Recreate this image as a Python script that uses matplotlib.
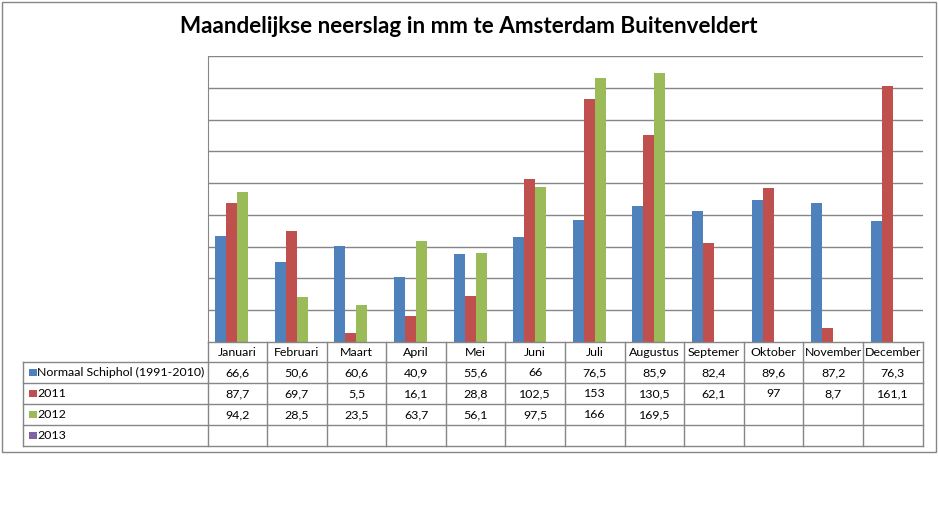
import matplotlib
matplotlib.use("Agg")
import matplotlib.pyplot as plt
from matplotlib.lines import Line2D
from matplotlib.patches import Rectangle
import numpy as np

W, H = 939, 513

months = ["Januari", "Februari", "Maart", "April", "Mei", "Juni", "Juli",
          "Augustus", "Septemer", "Oktober", "November", "December"]
series_names = ["Normaal Schiphol (1991-2010)", "2011", "2012", "2013"]
normaal = [66.6, 50.6, 60.6, 40.9, 55.6, 66, 76.5, 85.9, 82.4, 89.6, 87.2, 76.3]
y2011 = [87.7, 69.7, 5.5, 16.1, 28.8, 102.5, 153, 130.5, 62.1, 97, 8.7, 161.1]
y2012 = [94.2, 28.5, 23.5, 63.7, 56.1, 97.5, 166, 169.5, None, None, None, None]
y2013 = [None] * 12
colors = ["#4F81BD", "#C0504D", "#9BBB59", "#8064A2"]

FONT = "Lato"
GRID = "#868686"
TSIZE = 8.9


def fx(x):
    return x / W


def fy(y):
    return 1 - y / H


def fmt(v):
    if v is None:
        return ""
    return ("%g" % v).replace(".", ",")


fig = plt.figure(figsize=(W / 100, H / 100), dpi=100)
fig.patch.set_facecolor("white")

# outer chart border
fig.add_artist(Rectangle((fx(1.5), fy(452)), fx(936) - fx(1.5), fy(1.5) - fy(452),
                         transform=fig.transFigure, fill=False,
                         edgecolor=GRID, linewidth=1))

fig.text(fx(469), fy(27), "Maandelijkse neerslag in mm te Amsterdam Buitenveldert",
         ha="center", va="center", fontsize=16.2, fontweight="bold",
         family=FONT, color="black")

x0, x1 = 207.5, 922.5
top, bottom = 56, 342
ax = fig.add_axes([fx(x0), fy(bottom), fx(x1) - fx(x0), fy(top) - fy(bottom)])
ax.set_xlim(-0.5, 11.5)
ax.set_ylim(0, 180)
ax.set_yticks(np.arange(20, 181, 20))
ax.yaxis.grid(True, color=GRID, linewidth=1)
ax.set_axisbelow(True)
ax.tick_params(left=False, bottom=False, labelleft=False, labelbottom=False)
for s in ["top", "right", "bottom"]:
    ax.spines[s].set_visible(False)
ax.spines["left"].set_color(GRID)

xs = np.arange(12)
bw = 11 / ((x1 - x0) / 12)
all_series = [normaal, y2011, y2012, y2013]
for i, vals in enumerate(all_series):
    v = [np.nan if a is None else a for a in vals]
    ax.bar(xs + (i - 1.5) * bw, v, width=bw, color=colors[i], linewidth=0)

# data table
col_w = (x1 - x0) / 12
rows = [342, 362, 383, 404, 425, 446]
tleft = 23


def hline(y, xa, xb):
    fig.add_artist(Line2D([fx(xa), fx(xb)], [fy(y), fy(y)],
                          transform=fig.transFigure, color=GRID, linewidth=1))


def vline(x, ya, yb):
    fig.add_artist(Line2D([fx(x), fx(x)], [fy(ya), fy(yb)],
                          transform=fig.transFigure, color=GRID, linewidth=1))


hline(rows[0], x0, x1)
for y in rows[1:]:
    hline(y, tleft, x1)
for k in range(13):
    vline(x0 + k * col_w, rows[0], rows[-1])
vline(tleft, rows[1], rows[-1])

for k, m in enumerate(months):
    fig.text(fx(x0 + (k + 0.5) * col_w), fy((rows[0] + rows[1]) / 2 + 1), m,
             ha="center", va="center", fontsize=TSIZE, family=FONT)

for r, (name, vals) in enumerate(zip(series_names, all_series)):
    yc = (rows[r + 1] + rows[r + 2]) / 2
    fig.add_artist(Rectangle((fx(29), fy(yc + 3.5)), fx(7.5), fy(0) - fy(7.5),
                             transform=fig.transFigure, facecolor=colors[r],
                             edgecolor="none"))
    fig.text(fx(37), fy(yc), name, ha="left", va="center", fontsize=TSIZE, family=FONT)
    for k, v in enumerate(vals):
        fig.text(fx(x0 + (k + 0.5) * col_w), fy(yc), fmt(v),
                 ha="center", va="center", fontsize=TSIZE, family=FONT)

fig.savefig("out.png", dpi=100)
